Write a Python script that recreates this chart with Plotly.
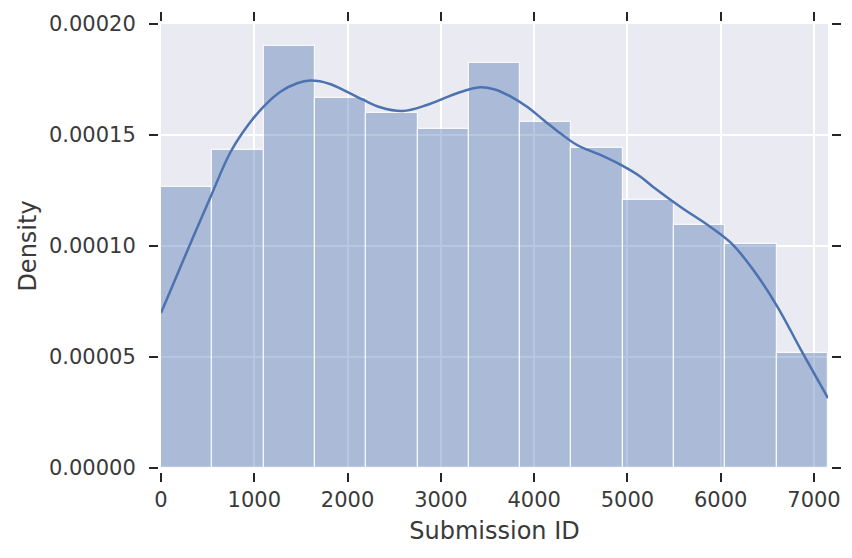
import plotly.graph_objects as go

# ---- data ----
bin_edges = [0, 550, 1100, 1650, 2200, 2750, 3300, 3850, 4400, 4950, 5500, 6050, 6600, 7150]
bin_density = [1.268e-4, 1.432e-4, 1.903e-4, 1.668e-4, 1.597e-4, 1.527e-4, 1.823e-4,
               1.560e-4, 1.442e-4, 1.207e-4, 1.093e-4, 1.009e-4, 0.516e-4]

kde_x = [0, 240, 530, 740, 920, 1100, 1280, 1460, 1600, 1810, 1990, 2170, 2350, 2590,
         2850, 3180, 3420, 3570, 3750, 3920, 4100, 4280, 4460, 4710, 4930, 5140, 5280,
         5570, 5890, 6110, 6350, 6610, 6860, 7150]
kde_y = [6.98e-5, 9.37e-5, 12.2e-5, 14.19e-5, 15.37e-5, 16.28e-5, 16.95e-5, 17.33e-5,
         17.45e-5, 17.30e-5, 16.95e-5, 16.58e-5, 16.25e-5, 16.08e-5, 16.35e-5, 16.89e-5,
         17.15e-5, 17.06e-5, 16.73e-5, 16.28e-5, 15.68e-5, 15.08e-5, 14.55e-5, 14.10e-5,
         13.65e-5, 13.12e-5, 12.65e-5, 11.76e-5, 10.86e-5, 10.14e-5, 8.92e-5, 7.25e-5,
         5.32e-5, 3.15e-5]

x_ticks = [0, 1000, 2000, 3000, 4000, 5000, 6000, 7000]
y_ticks = [0.0, 0.00005, 0.00010, 0.00015, 0.00020]
x_label = "Submission ID"
y_label = "Density"

# ---- layout geometry (pixels, in window coordinates) ----
OFF = 8  # page body margin
W, H = 852 - OFF, 558 - OFF
ML, MR, MT, MB = 130, 4, 4, 72
PW, PH = W - ML - MR, H - MT - MB
plot_l, plot_r, plot_t, plot_b = 161 - OFF, 828 - OFF, 24 - OFF, 468 - OFF


def px_x(p):
    return (p - ML) / PW


def px_y(p):
    return (H - MB - p) / PH


centers = [(a + b) / 2 for a, b in zip(bin_edges[:-1], bin_edges[1:])]
widths = [b - a for a, b in zip(bin_edges[:-1], bin_edges[1:])]

BLUE = "#4C72B0"
TXT = "#3a3a3a"
FONT = "DejaVu Sans"

fig = go.Figure()
fig.add_trace(go.Bar(
    x=centers, y=bin_density, width=widths,
    marker=dict(color="rgba(76,114,176,0.4)", line=dict(color="rgba(255,255,255,0.85)", width=1.2)),
    hoverinfo="skip", showlegend=False,
))
fig.add_trace(go.Scatter(
    x=kde_x, y=kde_y, mode="lines", line=dict(color=BLUE, width=2.5, shape="spline", smoothing=1.0),
    showlegend=False,
))
# invisible trace for the mirrored tick axes
fig.add_trace(go.Scatter(x=[None], y=[None], xaxis="x2", yaxis="y2", showlegend=False, hoverinfo="skip"))

xr = [bin_edges[0], bin_edges[-1]]
yr = [0, 0.0002]

tick_common = dict(ticks="outside", ticklen=9, tickwidth=2, tickcolor="#262626",
                   showline=False, zeroline=False, automargin=False)

fig.update_layout(
    width=W, height=H, autosize=False,
    margin=dict(l=ML, r=MR, t=MT, b=MB, pad=0, autoexpand=False),
    paper_bgcolor="white", plot_bgcolor="#EAEAF2",
    font=dict(family=FONT, color=TXT, size=21),
    bargap=0,
    xaxis=dict(
        domain=[px_x(plot_l), px_x(plot_r)], range=xr, tickvals=x_ticks,
        tickformat="d", showgrid=True, gridcolor="white", gridwidth=1.5,
        anchor="free", position=px_y(plot_b + 4),
        title=dict(text=x_label, font=dict(size=24, color=TXT), standoff=10),
        tickfont=dict(size=21, color=TXT), ticklabelstandoff=0,
        **tick_common,
    ),
    yaxis=dict(
        domain=[px_y(plot_b), px_y(plot_t)], range=yr, tickvals=y_ticks,
        tickformat=".5f", showgrid=True, gridcolor="white", gridwidth=1.5,
        anchor="free", position=px_x(plot_l - 3),
        title=dict(text=y_label, font=dict(size=24, color=TXT), standoff=4),
        tickfont=dict(size=21, color=TXT), ticklabelstandoff=9,
        **tick_common,
    ),
    xaxis2=dict(
        overlaying="x", side="top", range=xr, tickvals=x_ticks, showticklabels=False,
        showgrid=False, anchor="free", position=px_y(plot_t - 3), **tick_common,
    ),
    yaxis2=dict(
        overlaying="y", side="right", range=yr, tickvals=y_ticks, showticklabels=False,
        showgrid=False, anchor="free", position=px_x(plot_r + 3), **tick_common,
    ),
)

fig.write_html("out.html")
